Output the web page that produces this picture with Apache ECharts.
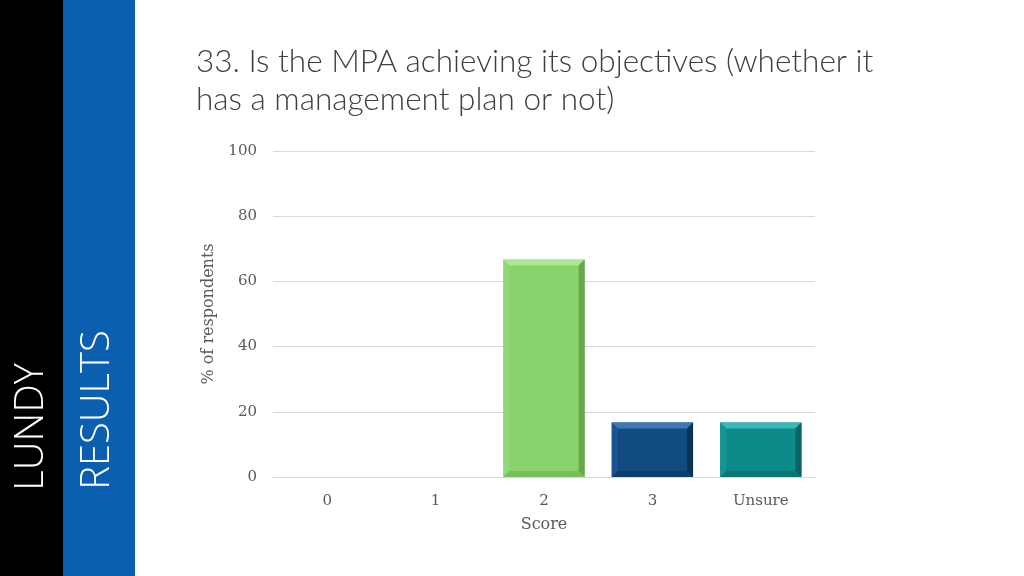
<!DOCTYPE html>
<html><head><meta charset="utf-8">
<script src="https://cdn.jsdelivr.net/npm/echarts@6/dist/echarts.min.js"></script>
<style>html,body{margin:0;padding:0;background:#fff}#c{width:1024px;height:576px}</style>
</head><body><div id="c"></div>
<script>
const categories = ['0', '1', '2', '3', 'Unsure'];
const values = [0, 0, 66.7, 16.7, 16.7];
const yTicks = [0, 20, 40, 60, 80, 100];
const titleText = '33. Is the MPA achieving its objectives (whether it\nhas a management plan or not)';
const palette = [
  {main:'#87d46c', top:'#abe794', right:'#66a84e', bottom:'#76bf5c', left:'#90d976'},
  {main:'#87d46c', top:'#abe794', right:'#66a84e', bottom:'#76bf5c', left:'#90d976'},
  {main:'#87d46c', top:'#abe794', right:'#66a84e', bottom:'#76bf5c', left:'#90d976'},
  {main:'#114b80', top:'#3f78b0', right:'#0a3358', bottom:'#0d3f6d', left:'#195490'},
  {main:'#0f8a8a', top:'#3bb6b6', right:'#0a6363', bottom:'#0c7575', left:'#149595'}
];

const chart = echarts.init(document.getElementById('c'), null, {renderer:'canvas'});
const serif = '"DejaVu Serif", "Liberation Serif", serif';
chart.setOption({
  animation:false,
  title:{text:titleText,left:191,top:38,textStyle:{fontFamily:'Lato',fontWeight:300,fontSize:31.5,color:'#404040',lineHeight:38}},
  graphic:[
    {type:'rect',shape:{x:0,y:0,width:63,height:576},style:{fill:'#000'},silent:true},
    {type:'rect',shape:{x:63,y:0,width:72,height:576},style:{fill:'#0b5fb0'},silent:true},
    {type:'text',x:32,y:427,rotation:Math.PI/2,style:{text:'LUNDY',fill:'#fff',font:'300 40px "Open Sans"',align:'center',verticalAlign:'middle'}},
    {type:'text',x:98,y:410,rotation:Math.PI/2,style:{text:'RESULTS',fill:'#fff',font:'300 40px "Open Sans"',align:'center',verticalAlign:'middle'}}
  ],
  grid:{left:273,right:209,top:151,bottom:99},
  xAxis:{type:'category',data:categories,name:'Score',nameLocation:'middle',nameGap:40,
    nameTextStyle:{fontFamily:serif,fontSize:16,color:'#595959'},
    axisLine:{lineStyle:{color:'#d9d9d9'}},axisTick:{show:false},
    axisLabel:{fontFamily:serif,fontSize:15,color:'#595959',margin:17}},
  yAxis:{type:'value',min:yTicks[0],max:yTicks[yTicks.length-1],interval:20,name:'% of respondents',nameLocation:'middle',nameGap:56,
    nameTextStyle:{fontFamily:serif,fontSize:16,color:'#595959'},
    axisLine:{show:false},axisTick:{show:false},
    splitLine:{lineStyle:{color:'#d9d9d9'}},
    axisLabel:{fontFamily:serif,fontSize:15,color:'#595959',margin:16}},
  series:[{
    type:'custom',
    data:categories.map((c,i)=>[i, values[i]]),
    encode:{x:0,y:1},
    renderItem:function(params, api){
      const idx = api.value(0), v = api.value(1);
      if(!(v>0)) return null;
      const p = palette[idx];
      const top = api.coord([idx, v]);
      const base = api.coord([idx, 0]);
      const bw = api.size([1,0])[0]*0.75;
      const l = top[0]-bw/2, r = top[0]+bw/2, t = top[1], b = base[1];
      const d = 6;
      return {type:'group',children:[
        {type:'rect',shape:{x:l,y:t,width:r-l,height:b-t},style:{fill:p.main}},
        {type:'polygon',shape:{points:[[l,t],[r,t],[r-d,t+d],[l+d,t+d]]},style:{fill:p.top}},
        {type:'polygon',shape:{points:[[l,b],[r,b],[r-d,b-d],[l+d,b-d]]},style:{fill:p.bottom}},
        {type:'polygon',shape:{points:[[l,t],[l+d,t+d],[l+d,b-d],[l,b]]},style:{fill:p.left}},
        {type:'polygon',shape:{points:[[r,t],[r,b],[r-d,b-d],[r-d,t+d]]},style:{fill:p.right}}
      ]};
    }
  }]
});
</script></body></html>
